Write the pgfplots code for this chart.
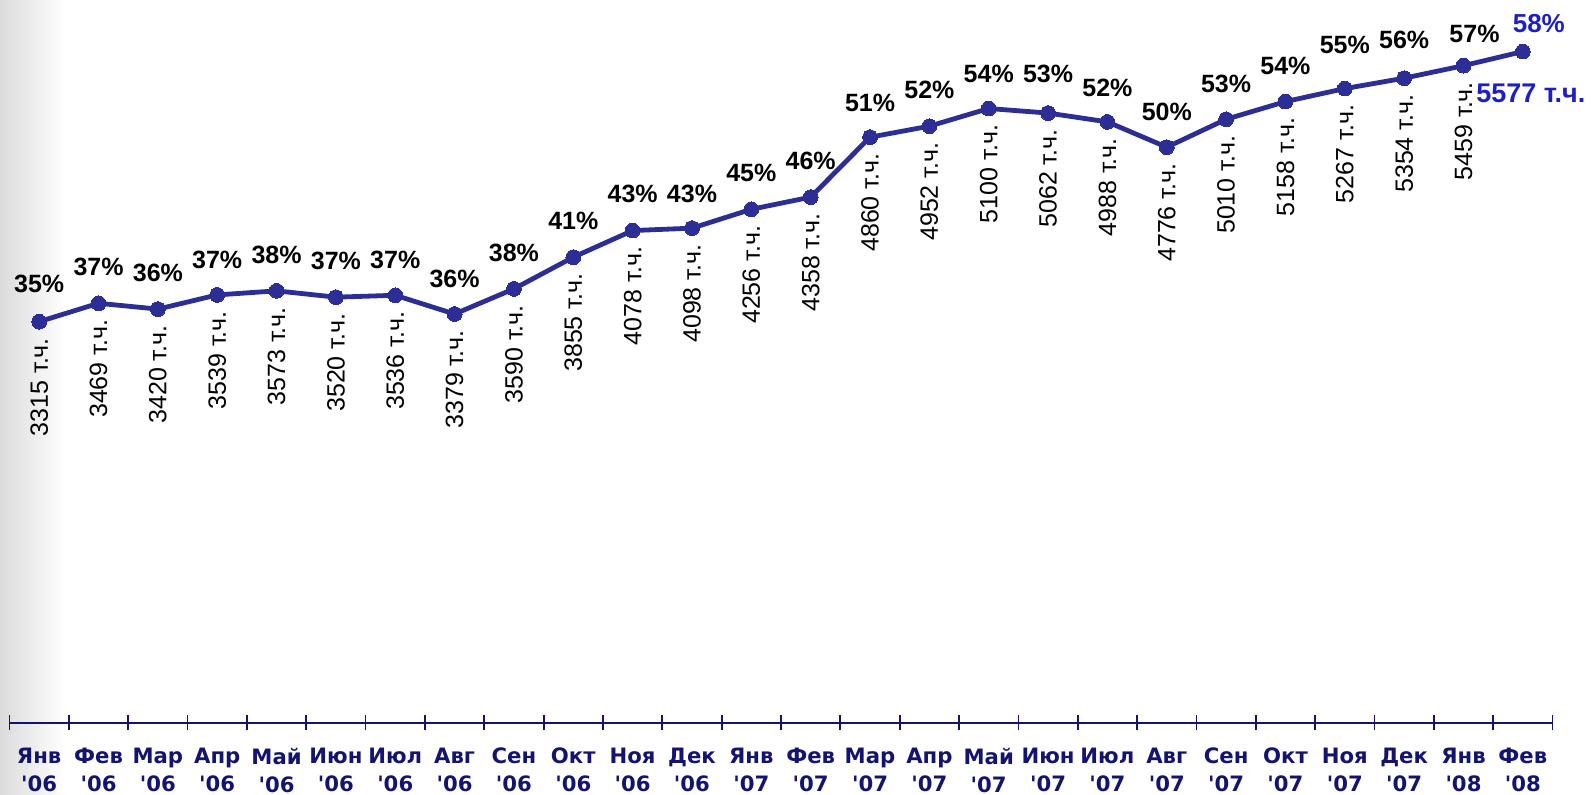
\documentclass[border=0pt]{standalone}
\usepackage{pgfplots}
\pgfplotsset{compat=1.18}
\usepackage{pgfplotstable}
\usepackage{fontspec}
\setmainfont{Liberation Sans}
\newfontfamily\dejavu{DejaVu Sans}[Ligatures=TeXOff]
\definecolor{linecol}{HTML}{2D2D96}
\definecolor{catcol}{HTML}{141470}
\definecolor{bluecol}{HTML}{1E1EC8}

% month index, subscribers (thousands), share (%), label offsets (pt)
\pgfplotstableread{
x  y    pct dy   dx
0  3315 35  14   0
1  3469 37  13.5 0
2  3420 36  13.5 0
3  3539 37  13   0
4  3573 38  13.5 0
5  3520 37  13.5 0
6  3536 37  13   0
7  3379 36  13   0
8  3590 38  13.5 0
9  3855 41  13.5 0
10 4078 43  13.5 0
11 4098 43  12.5 0
12 4256 45  13.5 0
13 4358 46  13.5 0
14 4860 51  12.5 0
15 4952 52  13.5 0
16 5100 54  12.5 0
17 5062 53  15   0
18 4988 52  12.5 0
19 4776 50  13   0
20 5010 53  13   0
21 5158 54  13   0
22 5267 55  17   0
23 5354 56  14.5 0
24 5459 57  11.5 5.5
25 5577 58  9    8
}\data

\begin{document}
\begin{tikzpicture}
% soft grey edge on the left
\shade[left color=black!14, right color=white] (-4.75pt,-36pt) rectangle (28pt,361.5pt);

\begin{axis}[
  at={(0,0)}, anchor=south west,
  scale only axis, width=771.5pt, height=361.5pt,
  xmin=-0.5, xmax=25.5, ymin=-46, ymax=6009,
  axis x line*=bottom, axis y line=none,
  x axis line style={draw=catcol, line width=0.9pt},
  xtick={-0.5,0.5,...,25.5}, x tick label as interval,
  xticklabels={Янв\\'06,Фев\\'06,Мар\\'06,Апр\\'06,Май\\'06,Июн\\'06,Июл\\'06,Авг\\'06,Сен\\'06,Окт\\'06,Ноя\\'06,Дек\\'06,
    Янв\\'07,Фев\\'07,Мар\\'07,Апр\\'07,Май\\'07,Июн\\'07,Июл\\'07,Авг\\'07,Сен\\'07,Окт\\'07,Ноя\\'07,Дек\\'07,
    Янв\\'08,Фев\\'08},
  tick align=center, major tick length=7.5pt,
  xtick style={draw=catcol, line width=0.9pt},
  xticklabel style={font=\dejavu\bfseries\fontsize{10.6}{14}\selectfont, text=catcol,
    align=center, inner sep=0pt, anchor=north, yshift=-8.5pt},
  clip=false,
]
\addplot[linecol, line width=2.4pt, mark=*, mark size=3.7pt,
  mark options={fill=linecol, draw=linecol, line width=0pt}]
  table[x=x, y=y]{\data};

% share labels
\addplot[draw=none, mark=none, point meta=explicit symbolic,
  visualization depends on={\thisrow{dy}\as\dy},
  visualization depends on={\thisrow{dx}\as\dx},
  nodes near coords={\pgfplotspointmeta\%},
  every node near coord/.append style={font=\fontsize{12.5}{15}\selectfont\bfseries,
    text=black, inner sep=0pt, anchor=south, xshift=\dx pt, yshift=\dy pt},
  skip coords between index={25}{26}]
  table[x=x, y=y, meta=pct]{\data};

% subscriber labels
\addplot[draw=none, mark=none, point meta=explicit symbolic,
  nodes near coords={\pgfplotspointmeta\ т.ч.},
  every node near coord/.append style={font=\fontsize{12.5}{15}\selectfont,
    text=black, inner sep=0pt, yshift=-8pt, rotate=90, anchor=east},
  skip coords between index={25}{26}]
  table[x=x, y=y, meta=y]{\data};

% last month in blue
\addplot[draw=none, mark=none, point meta=explicit symbolic,
  nodes near coords={\pgfplotspointmeta\%},
  every node near coord/.append style={font=\fontsize{13}{15}\selectfont\bfseries,
    text=bluecol, inner sep=0pt, anchor=south, xshift=8pt, yshift=9pt},
  skip coords between index={0}{25}]
  table[x=x, y=y, meta=pct]{\data};
\addplot[draw=none, mark=none, point meta=explicit symbolic,
  nodes near coords={\pgfplotspointmeta\ т.ч.},
  every node near coord/.append style={font=\fontsize{13.5}{15}\selectfont\bfseries,
    text=bluecol, inner sep=0pt, anchor=base west, xshift=-23.5pt, yshift=-25.5pt},
  skip coords between index={0}{25}]
  table[x=x, y=y, meta=y]{\data};
\end{axis}
\pgfresetboundingbox
\path (-4.75pt,-36pt) rectangle (791.75pt,361.5pt);
\end{tikzpicture}
\end{document}
